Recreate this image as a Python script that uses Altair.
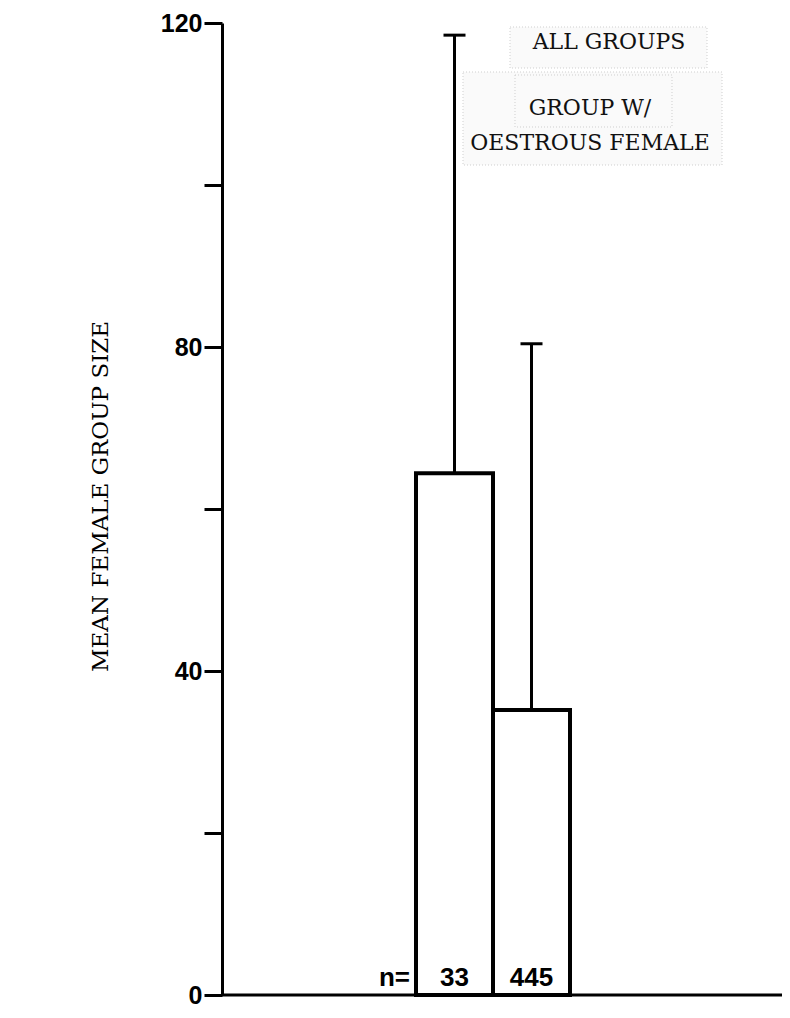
import altair as alt
import pandas as pd

# ---- data ----
groups = ["GROUP W/ OESTROUS FEMALE", "ALL GROUPS"]
means = [64.4, 35.2]
upper = [118.5, 80.4]
ns = ["33", "445"]

y_ticks = [0, 20, 40, 60, 80, 100, 120]
legend_lines = ["ALL GROUPS", "GROUP W/", "OESTROUS FEMALE"]

df = pd.DataFrame({"group": groups, "mean": means, "upper": upper, "n": ns})

W, H = 560, 972
x_scale = alt.Scale(paddingInner=0, paddingOuter=0, range=[194, 348])


def xenc(band=None):
    if band is None:
        return alt.X("group:N", sort=groups, scale=x_scale, axis=None)
    return alt.X("group:N", sort=groups, scale=x_scale, axis=None,
                 bandPosition=band)


y_enc = alt.Y(
    "mean:Q",
    scale=alt.Scale(domain=[0, 120], nice=False, zero=True),
    axis=alt.Axis(
        values=y_ticks,
        labelExpr="datum.value % 40 == 0 ? datum.label : ''",
        labelOverlap=False,
        tickSize=18, tickWidth=3, tickColor="black",
        domainWidth=3, domainColor="black",
        labelFont="Liberation Sans", labelFontWeight="bold",
        labelFontSize=25, labelPadding=2, labelColor="black",
        grid=False,
        title="MEAN FEMALE GROUP SIZE",
        titleFont="DejaVu Serif", titleFontWeight="normal",
        titleFontSize=23, titleColor="black",
        titleX=-122, titleY=473, titleAngle=270,
        titleAlign="center", titleBaseline="middle",
    ),
)

base = alt.Chart(df)

bars = base.mark_bar(fill="white", stroke="black", strokeWidth=4).encode(
    x=xenc(), y=y_enc
)
baseline = alt.Chart(pd.DataFrame({"a": [0]})).mark_rule(
    color="black", strokeWidth=3
).encode(x=alt.value(0), x2=alt.value(W), y=alt.datum(0))
err = base.mark_rule(color="black", strokeWidth=3).encode(
    x=xenc(), y="mean:Q", y2="upper:Q"
)
caps = base.mark_tick(color="black", size=22, thickness=3, opacity=1).encode(
    x=xenc(), y="upper:Q"
)
ntext = base.mark_text(font="Liberation Sans", fontWeight="bold", fontSize=26,
                       baseline="alphabetic", dy=-9, color="black").encode(
    x=xenc(), y=alt.datum(0), text="n:N"
)
nlabel = base.transform_filter(alt.datum.group == groups[0]).mark_text(
    font="Liberation Sans", fontWeight="bold", fontSize=26,
    baseline="alphabetic", align="right", dx=-6, dy=-9, color="black"
).encode(x=xenc(0), y=alt.datum(0), text=alt.value("n="))

# faint pasted-label boxes
box_specs = [(288, 485, 4, 45), (241, 500, 49, 142), (293, 450, 52, 104)]
boxes = []
for (bx1, bx2, by1, by2) in box_specs:
    boxes.append(
        alt.Chart(pd.DataFrame({"a": [0]})).mark_rect(
            fill="#fafafa", stroke="#cfcfcf", strokeWidth=1, strokeDash=[1, 2]
        ).encode(x=alt.value(bx1), x2=alt.value(bx2),
                 y=alt.value(by1), y2=alt.value(by2))
    )

legend_pos = [(387, 19), (368, 85), (368, 120)]
legend = []
for txt, (lx, ly) in zip(legend_lines, legend_pos):
    legend.append(
        alt.Chart(pd.DataFrame({"t": [txt]})).mark_text(
            font="DejaVu Serif", fontSize=22, color="#111",
            align="center", baseline="middle"
        ).encode(x=alt.value(lx), y=alt.value(ly), text="t:N")
    )

chart = alt.layer(*boxes, bars, baseline, err, caps, ntext, nlabel,
                  *legend).properties(
    width=W, height=H,
    autosize=alt.AutoSizeParams(type="none"),
    padding={"left": 214, "top": 15, "right": 0, "bottom": 14},
    background="white",
).configure_view(stroke=None)

chart.save("out.html", embed_options={"renderer": "svg", "actions": False})
